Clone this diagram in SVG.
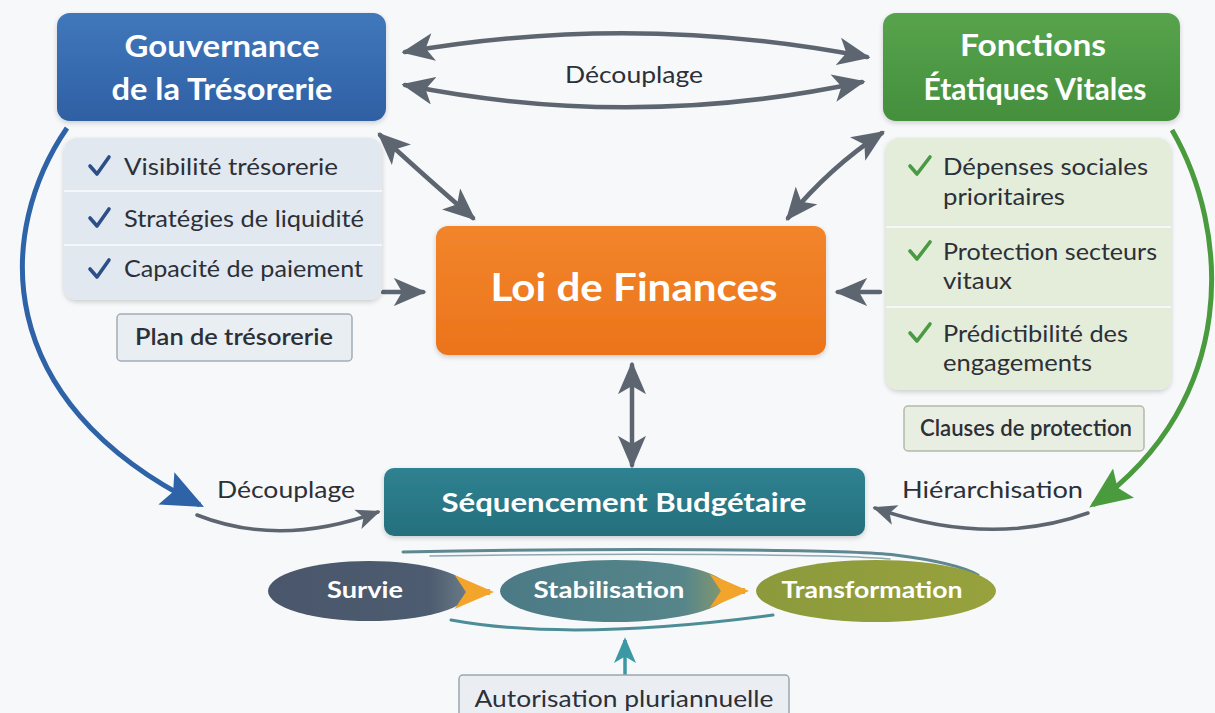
<svg xmlns="http://www.w3.org/2000/svg" width="1215" height="713" viewBox="0 0 1215 713">
<style>
text{font-family:Lato,"Open Sans","Liberation Sans",sans-serif}
.ttl{fill:#ffffff;font-weight:700;text-anchor:middle}
.itm{fill:#2c3038;font-size:23px}
.lbl{fill:#2c3038;font-size:23px}
.tag{fill:#2c3038;font-size:22px;font-weight:600;text-anchor:middle}
.gar{fill:none;stroke:#5d6670;stroke-width:4.5;stroke-linecap:round}
.sar{fill:none;stroke:#5d6670;stroke-width:3.5;stroke-linecap:round}
.ckb{fill:none;stroke:#2c4f87;stroke-width:3.6;stroke-linecap:round;stroke-linejoin:round}
.ckg{fill:none;stroke:#4a9a43;stroke-width:3.6;stroke-linecap:round;stroke-linejoin:round}
.sep{stroke:#f5f7fa;stroke-width:2}
.el{fill:#ffffff;font-size:23px;font-weight:700;text-anchor:middle}
</style>
<defs>
<filter id="sh" x="-10%" y="-10%" width="120%" height="130%">
<feDropShadow dx="0" dy="2" stdDeviation="2.5" flood-color="#000" flood-opacity="0.18"/>
</filter>
<linearGradient id="gBlue" x1="0" y1="0" x2="0" y2="1"><stop offset="0" stop-color="#4077bb"/><stop offset="1" stop-color="#2f60a4"/></linearGradient>
<linearGradient id="gGreen" x1="0" y1="0" x2="0" y2="1"><stop offset="0" stop-color="#58a34c"/><stop offset="1" stop-color="#448f3d"/></linearGradient>
<linearGradient id="gOr" x1="0" y1="0" x2="0" y2="1"><stop offset="0" stop-color="#f2852b"/><stop offset="1" stop-color="#ec741b"/></linearGradient>
<linearGradient id="gTeal" x1="0" y1="0" x2="0" y2="1"><stop offset="0" stop-color="#2f8291"/><stop offset="1" stop-color="#256f7d"/></linearGradient>
<linearGradient id="gSurv" x1="0" y1="0" x2="1" y2="0"><stop offset="0" stop-color="#4a566b"/><stop offset="0.8" stop-color="#4d5c70"/><stop offset="1" stop-color="#6b7d88"/></linearGradient>
<linearGradient id="gStab" x1="0" y1="0" x2="1" y2="0"><stop offset="0" stop-color="#4b7a86"/><stop offset="0.8" stop-color="#56868a"/><stop offset="1" stop-color="#8a9a6a"/></linearGradient>
<linearGradient id="gTrans" x1="0" y1="0" x2="1" y2="0"><stop offset="0" stop-color="#8c9a3c"/><stop offset="1" stop-color="#97a23d"/></linearGradient>
<marker id="ah" viewBox="0 0 28 24" refX="25" refY="12" markerWidth="33" markerHeight="28" markerUnits="userSpaceOnUse" orient="auto-start-reverse">
<path d="M0,0 L28,12 L0,24 L7,12 z" fill="#5d6670"/>
</marker>
<marker id="ahs" viewBox="0 0 28 24" refX="25" refY="12" markerWidth="24" markerHeight="21" markerUnits="userSpaceOnUse" orient="auto-start-reverse">
<path d="M0,0 L28,12 L0,24 L7,12 z" fill="#5d6670"/>
</marker>
<marker id="ahB" viewBox="0 0 28 24" refX="25" refY="12" markerWidth="42" markerHeight="38" markerUnits="userSpaceOnUse" orient="auto">
<path d="M0,0 L28,12 L0,24 L5,12 z" fill="#2f63a8"/>
</marker>
<marker id="ahG" viewBox="0 0 28 24" refX="25" refY="12" markerWidth="42" markerHeight="38" markerUnits="userSpaceOnUse" orient="auto">
<path d="M0,0 L28,12 L0,24 L5,12 z" fill="#4a9a3e"/>
</marker>
<marker id="ahT" viewBox="0 0 28 24" refX="25" refY="12" markerWidth="26" markerHeight="22" markerUnits="userSpaceOnUse" orient="auto">
<path d="M0,0 L28,12 L0,24 L7,12 z" fill="#3b98a4"/>
</marker>
<marker id="ahO" viewBox="0 0 28 24" refX="25" refY="12" markerWidth="40" markerHeight="34" markerUnits="userSpaceOnUse" orient="auto">
<path d="M0,0 L28,12 L0,24 L8,12 z" fill="#f3a42b"/>
</marker>
</defs>
<rect width="1215" height="713" fill="#f7f8fa"/>

<g id="connectors">
<path class="gar" d="M405,52 Q636,12 867,57" marker-start="url(#ah)" marker-end="url(#ah)"/>
<path class="gar" d="M405,85 Q633,131 862,82" marker-start="url(#ah)" marker-end="url(#ah)"/>
<path class="gar" d="M380,135 Q420,172 473,218" marker-start="url(#ah)" marker-end="url(#ah)"/>
<path class="gar" d="M882,133 Q830,167 788,218" marker-start="url(#ah)" marker-end="url(#ah)"/>
<path class="gar" d="M383,292 L423,292" marker-end="url(#ah)"/>
<path class="gar" d="M880,292 L838,292" marker-end="url(#ah)"/>
<path class="gar" d="M632,365 L632,465" marker-start="url(#ah)" marker-end="url(#ah)"/>
<path fill="none" stroke="#2f63a8" stroke-width="5" d="M67,128 C-3,230 -12,400 200,505" marker-end="url(#ahB)"/>
<path fill="none" stroke="#4a9a3e" stroke-width="5" d="M1172,130 C1230,230 1240,400 1093,505" marker-end="url(#ahG)"/>
<path class="sar" d="M197,515 Q280,548 378,512" marker-end="url(#ahs)"/>
<path class="sar" d="M1088,513 Q990,548 875,508" marker-end="url(#ahs)"/>
<path fill="none" stroke="#5f8791" stroke-width="3" stroke-linecap="round" d="M403,552 C600,548 850,549 895,555 C935,560 962,566 978,575"/>
<path fill="none" stroke="#8fa8b0" stroke-width="1.5" stroke-linecap="round" d="M430,556 C620,553 840,554 890,559"/>
<path fill="none" stroke="#4c8d98" stroke-width="3" stroke-linecap="round" d="M451,620 Q570,642 773,615"/>
<path fill="none" stroke="#3b98a4" stroke-width="3.5" d="M625,675 L625,640" marker-end="url(#ahT)"/>
</g>

<g id="gouvernance">
<rect x="57" y="13" width="329" height="108" rx="13" fill="url(#gBlue)" filter="url(#sh)"/>
<text class="ttl" x="222" y="57" font-size="30" textLength="195" lengthAdjust="spacingAndGlyphs">Gouvernance</text>
<text class="ttl" x="222" y="100" font-size="30" textLength="221" lengthAdjust="spacingAndGlyphs">de la Trésorerie</text>
</g>

<g id="fonctions">
<rect x="883" y="13" width="297" height="108" rx="13" fill="url(#gGreen)" filter="url(#sh)"/>
<text class="ttl" x="1033" y="56" font-size="30" textLength="146" lengthAdjust="spacingAndGlyphs">Fonctions</text>
<text class="ttl" x="1035" y="100" font-size="30" textLength="223" lengthAdjust="spacingAndGlyphs">Étatiques Vitales</text>
</g>

<g id="gouv-list">
<rect x="64" y="138" width="318" height="162" rx="13" fill="#e2e8ef" filter="url(#sh)"/>
<line class="sep" x1="64" y1="191" x2="382" y2="191"/>
<line class="sep" x1="64" y1="245" x2="382" y2="245"/>
<path class="ckb" d="M90,166 L97,174 L109,157"/>
<text class="itm" x="124" y="175" textLength="214" lengthAdjust="spacingAndGlyphs">Visibilité trésorerie</text>
<path class="ckb" d="M90,218 L97,226 L109,209"/>
<text class="itm" x="124" y="227" textLength="240" lengthAdjust="spacingAndGlyphs">Stratégies de liquidité</text>
<path class="ckb" d="M90,269 L97,277 L109,260"/>
<text class="itm" x="124" y="277" textLength="239" lengthAdjust="spacingAndGlyphs">Capacité de paiement</text>
</g>

<g id="plan">
<rect x="117" y="314" width="235" height="47" rx="4" fill="#e9eef3" stroke="#a2acb6" stroke-width="1.5"/>
<text class="tag" x="234" y="345" textLength="198" lengthAdjust="spacingAndGlyphs">Plan de trésorerie</text>
</g>

<g id="fonctions-list">
<rect x="886" y="138" width="285" height="252" rx="13" fill="#e3edda" filter="url(#sh)"/>
<line class="sep" x1="886" y1="227" x2="1171" y2="227" stroke="#f1f6ec"/>
<line class="sep" x1="886" y1="307" x2="1171" y2="307" stroke="#f1f6ec"/>
<path class="ckg" d="M910,166 L917,174 L930,157"/>
<text class="itm" x="943" y="175" textLength="205" lengthAdjust="spacingAndGlyphs">Dépenses sociales</text>
<text class="itm" x="943" y="205" textLength="122" lengthAdjust="spacingAndGlyphs">prioritaires</text>
<path class="ckg" d="M910,251 L917,259 L930,242"/>
<text class="itm" x="943" y="260" textLength="214" lengthAdjust="spacingAndGlyphs">Protection secteurs</text>
<text class="itm" x="943" y="289" textLength="69" lengthAdjust="spacingAndGlyphs">vitaux</text>
<path class="ckg" d="M910,333 L917,341 L930,324"/>
<text class="itm" x="943" y="342" textLength="185" lengthAdjust="spacingAndGlyphs">Prédictibilité des</text>
<text class="itm" x="943" y="371" textLength="149" lengthAdjust="spacingAndGlyphs">engagements</text>
</g>

<g id="clauses">
<rect x="904" y="406" width="240" height="45" rx="4" fill="#e8efe2" stroke="#b0bba8" stroke-width="1.5"/>
<text class="tag" x="1026" y="436" textLength="212" lengthAdjust="spacingAndGlyphs">Clauses de protection</text>
</g>

<g id="loi">
<rect x="436" y="226" width="390" height="129" rx="12" fill="url(#gOr)" filter="url(#sh)"/>
<text class="ttl" x="634" y="301" font-size="39" textLength="287" lengthAdjust="spacingAndGlyphs">Loi de Finances</text>
</g>

<g id="decouplage-top">
<text class="lbl" x="634" y="83" text-anchor="middle" textLength="138" lengthAdjust="spacingAndGlyphs">Découplage</text>
</g>

<g id="sequencement">
<rect x="384" y="468" width="481" height="68" rx="10" fill="url(#gTeal)" filter="url(#sh)"/>
<text class="ttl" x="624" y="512" font-size="27" textLength="365" lengthAdjust="spacingAndGlyphs">Séquencement Budgétaire</text>
</g>

<g id="decouplage-left">
<text class="lbl" x="217" y="498" textLength="138" lengthAdjust="spacingAndGlyphs">Découplage</text>
</g>

<g id="hierarchisation">
<text class="lbl" x="902" y="498" textLength="181" lengthAdjust="spacingAndGlyphs">Hiérarchisation</text>
</g>

<g id="transformation">
<ellipse cx="876" cy="591" rx="120" ry="31" fill="url(#gTrans)"/>
<text class="el" x="872" y="598" textLength="181" lengthAdjust="spacingAndGlyphs">Transformation</text>
</g>
<g id="stabilisation">
<ellipse cx="615" cy="591" rx="115" ry="31" fill="url(#gStab)"/>
<text class="el" x="609" y="598" textLength="151" lengthAdjust="spacingAndGlyphs">Stabilisation</text>
</g>
<g id="survie">
<ellipse cx="369" cy="591" rx="101" ry="30" fill="url(#gSurv)"/>
<text class="el" x="365" y="598" textLength="76" lengthAdjust="spacingAndGlyphs">Survie</text>
</g>
<g id="phase-arrows">
<path d="M470,592 L490,592" stroke="#f3a42b" stroke-width="6" marker-end="url(#ahO)" fill="none"/>
<path d="M727,591 L745,591" stroke="#f3a42b" stroke-width="6" marker-end="url(#ahO)" fill="none"/>
</g>

<g id="autorisation">
<rect x="459" y="675" width="330" height="50" rx="4" fill="#eaeef2" stroke="#9aa6b1" stroke-width="1.5"/>
<text class="lbl" x="624" y="707" text-anchor="middle" textLength="299" lengthAdjust="spacingAndGlyphs">Autorisation pluriannuelle</text>
</g>
</svg>
